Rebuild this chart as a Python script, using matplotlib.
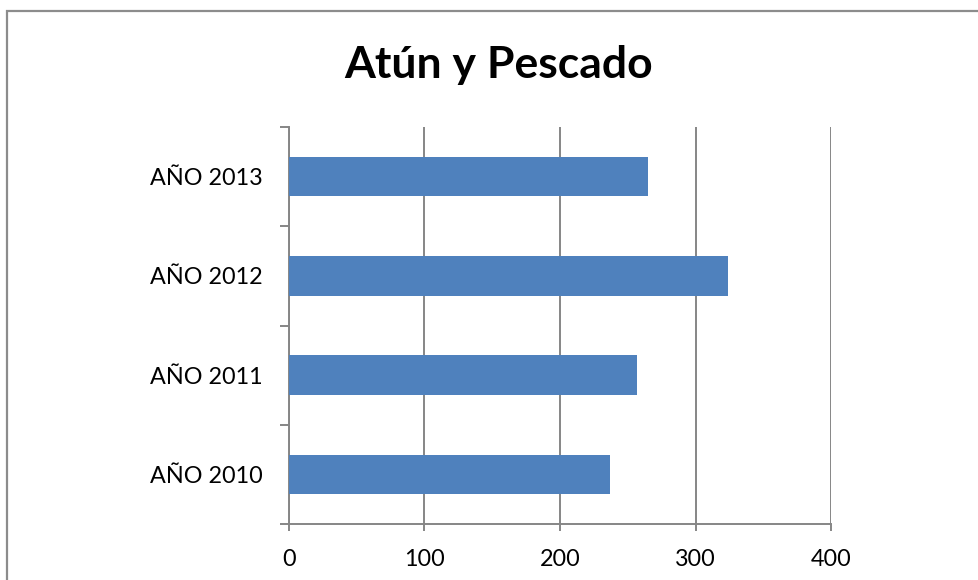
import matplotlib
matplotlib.use("Agg")
import matplotlib.pyplot as plt
from matplotlib.patches import Rectangle
from matplotlib.ticker import FixedLocator

categories = ["AÑO 2010", "AÑO 2011", "AÑO 2012", "AÑO 2013"]
values = [237, 257, 324, 265]
x_ticks = [0, 100, 200, 300, 400]
title = "Atún y Pescado"

plt.rcParams['font.family'] = ['Lato', 'DejaVu Sans']

fig = plt.figure(figsize=(9.79, 5.8), dpi=100)
fig.patch.set_facecolor("white")

# outer chart border (left and top visible, cropped on right/bottom)
fig.patches.append(Rectangle((7.5 / 979, -0.1), 1.2, (580 - 11) / 580 + 0.1,
                             transform=fig.transFigure, fill=False,
                             edgecolor="#8c8c8c", linewidth=1.6))

ax = fig.add_axes([289 / 979, (580 - 524) / 580, 542 / 979, 397 / 580])
pos = list(range(len(categories)))
ax.barh(pos, values, height=0.4, color="#4F81BD", zorder=3)

ax.set_xlim(0, 400)
ax.set_ylim(-0.5, len(categories) - 0.5)
ax.set_xticks(x_ticks)
ax.set_xticklabels([str(t) for t in x_ticks])
ax.set_yticks(pos)
ax.set_yticklabels(categories)
ax.yaxis.set_minor_locator(FixedLocator([p - 0.5 for p in range(len(categories) + 1)]))

grid_c = "#868686"
ax.grid(axis="x", color=grid_c, linewidth=1.4, zorder=0)
for s in ["top", "right"]:
    ax.spines[s].set_visible(False)
for s in ["left", "bottom"]:
    ax.spines[s].set_color(grid_c)
    ax.spines[s].set_linewidth(1.4)

ax.tick_params(axis="x", which="major", direction="out", length=5, width=1.4,
               color=grid_c, labelsize=16.8, pad=13, labelcolor="black")
ax.tick_params(axis="y", which="major", length=0, labelsize=16.8, pad=19,
               labelcolor="black")
ax.tick_params(axis="y", which="minor", direction="out", length=6.5, width=1.4,
               color=grid_c)

fig.text(499 / 979, 1 - 65 / 580, title, ha="center", va="center",
         fontsize=32, fontweight="bold")

fig.savefig("out.png", dpi=100)
